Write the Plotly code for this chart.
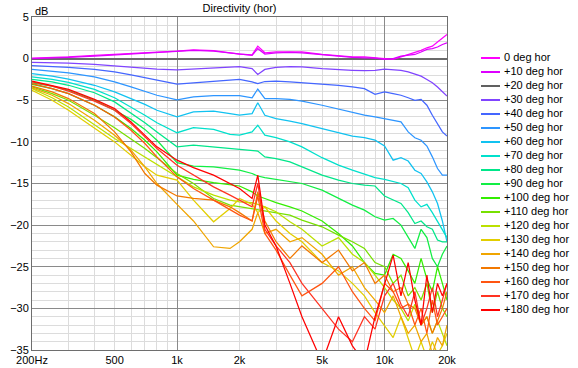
import math
import plotly.graph_objects as go

# ---------------- data ----------------
freqs = [200, 250, 300, 400, 500, 600, 700, 800, 1000, 1200, 1500, 1800, 2000, 2300, 2450,
         2650, 3000, 3500, 4000, 5000, 6000, 7000, 8000, 9000, 10000, 11000, 12000, 13000,
         14000, 15000, 16000, 17000, 18000, 19000, 20000]

labels = ["0 deg hor", "+10 deg hor", "+20 deg hor", "+30 deg hor", "+40 deg hor",
          "+50 deg hor", "+60 deg hor", "+70 deg hor", "+80 deg hor", "+90 deg hor",
          "+100 deg hor", "+110 deg hor", "+120 deg hor", "+130 deg hor", "+140 deg hor",
          "+150 deg hor", "+160 deg hor", "+170 deg hor", "+180 deg hor"]

colors = ["#FF00FF", "#DD00FF", "#606060", "#8044FF", "#4466FF", "#2D95FF", "#11C2F0",
          "#00E0CC", "#00E68A", "#11EE44", "#33EE00", "#77E000", "#BBE000", "#E2CE00",
          "#F0A500", "#F27800", "#FF5511", "#FF3322", "#FF0000"]

deg0 = [0.05, 0.1, 0.2, 0.4, 0.5, 0.6, 0.7, 0.8, 0.9, 1.05, 0.95, 0.7, 0.55, 0.45, 1.5,
        0.7, 0.8, 0.8, 0.8, 0.5, 0.3, 0.2, 0.2, 0.1, 0.0, -0.1, 0.2, 0.5, 0.7, 1.0,
        1.3, 1.5, 2.0, 2.5, 2.9]
deg10 = [0.0, 0.05, 0.15, 0.3, 0.45, 0.55, 0.65, 0.75, 0.85, 1.0, 0.9, 0.65, 0.5, 0.4, 1.2,
         0.55, 0.7, 0.75, 0.7, 0.45, 0.25, 0.15, 0.1, 0.05, -0.1, 0.0, 0.3, 0.4, 0.5, 0.8,
         1.1, 1.2, 1.4, 1.7, 1.9]
deg20 = None
deg30 = [-0.45, -0.5, -0.55, -0.7, -0.9, -1.05, -1.15, -1.25, -1.35, -1.25, -1.1, -1.0, -0.95,
         -1.2, -1.9, -1.3, -1.05, -0.95, -1.0, -1.2, -1.35, -1.4, -1.45, -1.4, -1.25, -1.3,
         -1.4, -1.6, -1.85, -2.1, -2.5, -2.9, -3.4, -4.0, -4.5]
deg40 = [-0.85, -0.95, -1.05, -1.3, -1.6, -1.95, -2.3, -2.6, -3.05, -2.9, -2.7, -2.55, -2.5,
         -2.8, -3.0, -2.75, -2.7, -2.8, -2.9, -3.0, -3.2, -3.4, -3.6, -4.3, -4.0, -4.2, -4.4,
         -4.7, -5.0, -4.9, -5.6, -6.8, -7.9, -8.8, -9.3]
deg50 = [-1.3, -1.5, -1.7, -2.2, -2.8, -3.4, -3.9, -4.4, -4.95, -4.6, -4.45, -4.4, -4.45,
         -4.7, -3.65, -4.8, -4.8, -4.9, -5.1, -5.6, -6.1, -6.5, -6.8, -7.0, -7.2, -7.4, -7.6,
         -8.8, -9.5, -9.8, -10.5, -11.8, -13.2, -14.0, -14.0]
deg60 = [-1.8, -2.1, -2.45, -3.2, -4.0, -4.8, -5.5, -6.2, -7.0, -6.4, -6.3, -6.6, -6.8, -6.6,
         -5.3, -6.8, -7.2, -7.5, -7.8, -8.4, -8.9, -9.3, -9.5, -9.8, -10.5, -12.2, -11.9,
         -12.3, -13.4, -13.8, -14.8, -16.0, -17.4, -19.5, -22.0]
deg70 = [-2.2, -2.5, -2.85, -3.7, -4.7, -5.8, -6.8, -7.7, -8.9, -8.3, -8.5, -9.1, -9.2, -8.8,
         -8.0, -9.2, -9.5, -10.0, -10.6, -11.9, -12.8, -13.4, -13.9, -14.3, -14.5, -14.8,
         -15.0, -15.5, -17.0, -17.8, -17.5, -18.5, -19.5, -20.5, -21.5]
deg80 = [-2.5, -2.8, -3.2, -4.1, -5.2, -6.5, -7.7, -8.8, -10.6, -10.4, -10.6, -10.8, -10.9,
         -11.0, -11.1, -11.8, -12.0, -12.4, -13.0, -14.0, -14.6, -15.0, -15.2, -15.3, -16.5,
         -17.0, -17.4, -18.5, -19.8, -19.5, -20.2, -20.5, -21.8, -22.0, -22.0]
deg90 = [-2.9, -3.3, -3.8, -5.0, -6.2, -7.3, -8.5, -9.8, -12.5, -12.9, -13.0, -13.2, -13.4,
         -13.8, -14.1, -14.3, -14.5, -14.7, -15.0, -15.8, -16.8, -17.6, -18.2, -19.0, -19.4,
         -19.2, -20.0, -21.5, -22.8, -20.5, -21.5, -24.0, -25.0, -23.5, -22.5]
deg100 = [-3.1, -3.6, -4.2, -5.6, -7.0, -8.4, -9.8, -11.2, -14.0, -14.5, -14.9, -15.1, -15.3,
          -16.0, -16.5, -16.8, -17.3, -17.8, -18.3, -19.5, -21.0, -22.5, -24.5, -25.8, -26.0,
          -23.5, -24.0, -25.5, -27.0, -24.0, -26.5, -28.0, -25.0, -27.0, -29.0]
deg110 = [-3.4, -4.2, -5.0, -6.8, -8.3, -9.6, -10.8, -11.9, -13.8, -15.0, -16.8, -17.6, -17.8,
          -18.0, -18.2, -18.3, -18.5, -18.8, -19.4, -20.2, -21.2, -22.0, -22.8, -24.5, -25.0,
          -27.0, -26.0, -28.5, -27.5, -29.0, -27.0, -30.5, -28.0, -30.0, -31.0]
deg120 = [-3.6, -4.7, -5.8, -8.0, -9.6, -10.8, -11.8, -12.7, -14.2, -15.4, -16.4, -17.0, -17.2,
          -17.3, -17.5, -17.8, -18.4, -19.6, -20.5, -22.5, -21.5, -23.5, -24.5, -26.0, -27.5,
          -29.0, -30.0, -31.5, -29.5, -32.0, -31.0, -33.0, -31.5, -33.0, -34.5]
deg130 = [-3.8, -5.0, -6.2, -8.4, -10.0, -11.6, -13.0, -14.0, -14.6, -17.0, -19.6, -18.0,
          -16.8, -17.5, -18.5, -17.8, -19.5, -21.0, -22.0, -24.5, -25.5, -27.0, -28.5, -30.5,
          -32.0, -33.5, -31.0, -33.5, -36.0, -34.0, -36.0, -34.0, -35.5, -34.5, -33.0]
deg140 = [-3.5, -4.4, -5.4, -7.4, -9.2, -11.0, -13.0, -15.0, -17.5, -19.5, -22.6, -22.8,
          -22.0, -20.5, -18.5, -21.0, -20.5, -22.0, -21.5, -23.5, -26.0, -25.0, -27.5, -29.0,
          -30.5, -28.5, -31.0, -33.0, -32.0, -34.0, -33.0, -35.5, -33.5, -34.5, -32.0]
deg150 = [-3.3, -4.0, -4.8, -6.6, -8.8, -11.2, -13.8, -15.2, -16.5, -16.8, -17.0, -17.8,
          -18.5, -19.5, -16.0, -19.5, -22.0, -24.0, -22.5, -24.5, -23.0, -25.5, -24.5, -27.0,
          -26.0, -28.0, -27.5, -29.5, -30.0, -32.0, -31.0, -33.0, -31.5, -30.0, -28.0]
deg160 = [-3.0, -3.6, -4.2, -5.6, -7.0, -8.6, -10.2, -11.8, -14.2, -15.6, -17.0, -18.2, -18.8,
          -19.5, -16.5, -21.0, -23.0, -26.0, -28.5, -27.0, -25.0, -28.0, -30.0, -31.5, -27.0,
          -28.0, -30.0, -29.5, -32.0, -30.0, -33.0, -29.0, -32.0, -31.0, -30.0]
deg170 = [-2.8, -3.3, -3.9, -5.1, -6.2, -7.8, -9.4, -10.8, -12.8, -14.0, -15.4, -16.4, -17.0,
          -17.8, -15.0, -20.5, -22.5, -24.5, -27.0, -30.0, -32.5, -34.0, -31.0, -32.5, -28.5,
          -27.0, -29.5, -31.0, -28.0, -32.0, -30.0, -27.5, -31.0, -29.0, -27.0]
deg180 = [-2.7, -3.2, -3.7, -4.9, -6.0, -7.6, -9.2, -10.6, -12.2, -13.1, -14.0, -15.0, -15.6,
          -16.8, -14.0, -20.0, -22.5, -27.0, -31.0, -36.5, -31.0, -34.5, -36.5, -31.0, -27.0,
          -23.6, -28.5, -24.5, -29.0, -32.0, -26.0, -30.5, -27.0, -28.5, -27.0]

series = [deg0, deg10, deg20, deg30, deg40, deg50, deg60, deg70, deg80, deg90, deg100,
          deg110, deg120, deg130, deg140, deg150, deg160, deg170, deg180]

x_tick_vals = [200, 500, 1000, 2000, 5000, 10000, 20000]
x_tick_text = ["200Hz", "500", "1k", "2k", "5k", "10k", "20k"]
x_major_grid = [1000, 10000]
x_minor_grid = [200, 300, 400, 500, 600, 700, 800, 900, 2000, 3000, 4000, 5000, 6000,
                7000, 8000, 9000, 20000]

# ---------------- layout geometry ----------------
W, H = 578, 368
ML, MR, MT, MB = 32, 5, 17, 18
PW = W - ML - MR
PH = H - MT - MB
plot_right = 447
leg_x0, leg_x1 = 481, 500
leg_first, leg_step = 58, 14
text_gap = 4

FONT = "Liberation Sans, Arial, sans-serif"
MAJOR = "#8a8a8a"
MINOR = "#dcdcdc"

fig = go.Figure()

for lab, col, vals in zip(labels, colors, series):
    if vals is None:
        continue
    fig.add_trace(go.Scatter(x=freqs, y=vals, mode="lines", name=lab,
                             line=dict(color=col, width=1.25),
                             showlegend=False, xaxis="x", yaxis="y"))

# empty trace so the overlaid axis (dark 1k / 10k grid) gets drawn
fig.add_trace(go.Scatter(x=[], y=[], mode="lines", showlegend=False, hoverinfo="skip",
                         xaxis="x2", yaxis="y"))

# custom legend (line samples + text) on its own hidden axes
leg_span = (leg_x1 + text_gap - leg_x0) / (leg_x1 - leg_x0)
for i, (lab, col) in enumerate(zip(labels, colors)):
    fig.add_trace(go.Scatter(x=[0, 1], y=[i, i], mode="lines",
                             line=dict(color=col, width=2), showlegend=False,
                             hoverinfo="skip", xaxis="x3", yaxis="y3"))
fig.add_trace(go.Scatter(x=[leg_span] * len(labels),
                         y=list(range(len(labels))), text=labels,
                         mode="text", textposition="middle right", cliponaxis=False,
                         textfont=dict(family=FONT, size=11, color="black"),
                         showlegend=False, hoverinfo="skip", xaxis="x3", yaxis="y3"))

xr = [math.log10(200), math.log10(20000)]
leg_top = 0 - (leg_first - MT) / leg_step
leg_bot = leg_top + PH / leg_step

fig.update_layout(
    template="none",
    width=W, height=H, autosize=False,
    margin=dict(l=ML, r=MR, t=MT, b=MB, pad=0, autoexpand=False),
    paper_bgcolor="white", plot_bgcolor="white",
    font=dict(family=FONT, size=11, color="black"),
    title=dict(text="Directivity (hor)", font=dict(size=11, color="black"),
               x=((ML + plot_right) / 2 - ML) / PW, xref="paper", xanchor="center",
               y=1 - 8 / H, yref="container", yanchor="middle", automargin=False),
    xaxis=dict(type="log", range=xr, domain=[0, (plot_right - ML) / PW],
               tickmode="array", tickvals=x_tick_vals, ticktext=x_tick_text,
               showticklabels=True, tickfont=dict(size=11, color="black"),
               showgrid=True, gridcolor=MINOR, gridwidth=1, ticks="",
               minor=dict(tickmode="array", tickvals=x_minor_grid, showgrid=True,
                          gridcolor=MINOR, gridwidth=1, ticks=""),
               showline=True, mirror=True, linecolor="#6e6e6e", linewidth=1,
               zeroline=False, anchor="y", automargin=False),
    xaxis2=dict(type="log", range=xr, overlaying="x", anchor="y", side="bottom",
                tickmode="array", tickvals=x_major_grid, showticklabels=False,
                showgrid=True, gridcolor=MAJOR, gridwidth=1,
                ticks="", showline=False, zeroline=False, automargin=False),
    yaxis=dict(range=[-35, 5], tickmode="linear", tick0=0, dtick=5,
               showgrid=True, gridcolor=MAJOR, gridwidth=1, ticks="",
               minor=dict(dtick=1, tick0=0, showgrid=True, gridcolor=MINOR,
                          gridwidth=1, ticks=""),
               zeroline=True, zerolinecolor="#6a6a6a", zerolinewidth=2,
               showline=True, mirror=True, linecolor="#6e6e6e", linewidth=1,
               tickfont=dict(size=11, color="black"), anchor="x", automargin=False),
    xaxis3=dict(domain=[(leg_x0 - ML) / PW, (leg_x1 + text_gap - ML) / PW],
                range=[0, leg_span], visible=False, anchor="y3", fixedrange=True,
                automargin=False),
    yaxis3=dict(domain=[0, 1], range=[leg_bot, leg_top], visible=False,
                anchor="x3", fixedrange=True, automargin=False),
    annotations=[dict(text="dB", xref="paper", yref="paper",
                      x=(33 - ML) / PW, y=1 + (MT - 11) / PH,
                      xanchor="left", yanchor="middle", showarrow=False,
                      font=dict(size=11, color="black"))],
)

fig.write_html("out.html", config={"displayModeBar": False, "staticPlot": True},
               post_script="document.body.style.margin='0';document.body.style.padding='0';")
